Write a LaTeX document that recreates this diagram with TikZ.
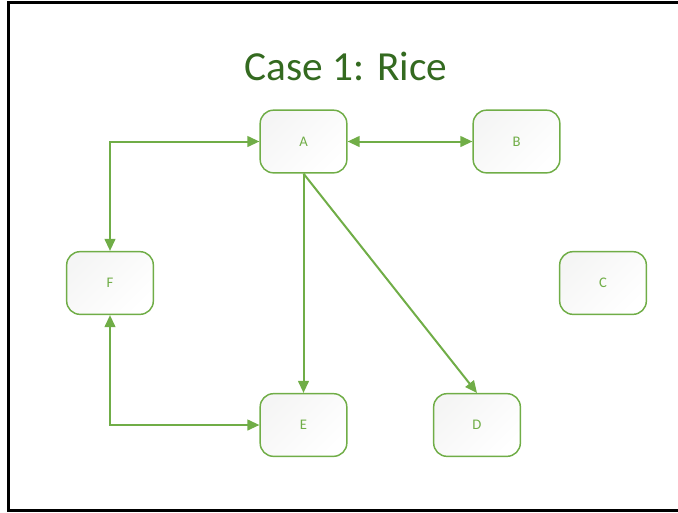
\documentclass[tikz,border=0pt]{standalone}
\usepackage{fontspec}
\setmainfont{Carlito}
\usepackage{tikz}
\usetikzlibrary{arrows.meta}
\definecolor{leaf}{RGB}{112,173,71}
\definecolor{ricegreen}{RGB}{52,106,32}
\tikzset{
	state/.style = {
		draw=leaf,
		line width=1.1pt,
		rounded corners=10pt,
		minimum width=65pt,
		minimum height=47pt,
		top color=leaf!8!black!4,
		bottom color=white,
		shading angle=45,
		text=leaf,
		font=\fontsize{11}{12}\selectfont
	},
	heading/.style = {
		text=ricegreen,
		font=\fontsize{31}{36}\selectfont
	}
}
\tikzstyle{link} = [leaf, line width=1.5pt, -{Triangle[length=9pt,width=8pt]}]
\tikzstyle{twoway} = [leaf, line width=1.5pt, {Triangle[length=9pt,width=8pt]}-{Triangle[length=9pt,width=8pt]}]

\begin{document}
\begin{tikzpicture}[x=0.75pt, y=-0.75pt]
\useasboundingbox (0,0) rectangle (678,512);
\draw[line width=2.25pt] (720,2) -- (8,2) -- (8,510) -- (720,510);

\node[heading] (title) at (346,66) {Case 1: Rice};

\node[state] (a) at (303.5,141.5) {A};
\node[state] (b) at (516.5,141.5) {B};
\node[state] (c) at (603,283) {C};
\node[state] (d) at (477,425) {D};
\node[state] (e) at (303.5,425) {E};
\node[state] (f) at (110,283) {F};

\draw[twoway] (a) -- (b);
\draw[twoway] (f.north) |- (a.west);
\draw[twoway] (f.south) |- (e.west);
\draw[link] (a.south) -- (e.north);
\draw[link] (a.south) -- (d.north);
\end{tikzpicture}
\end{document}
